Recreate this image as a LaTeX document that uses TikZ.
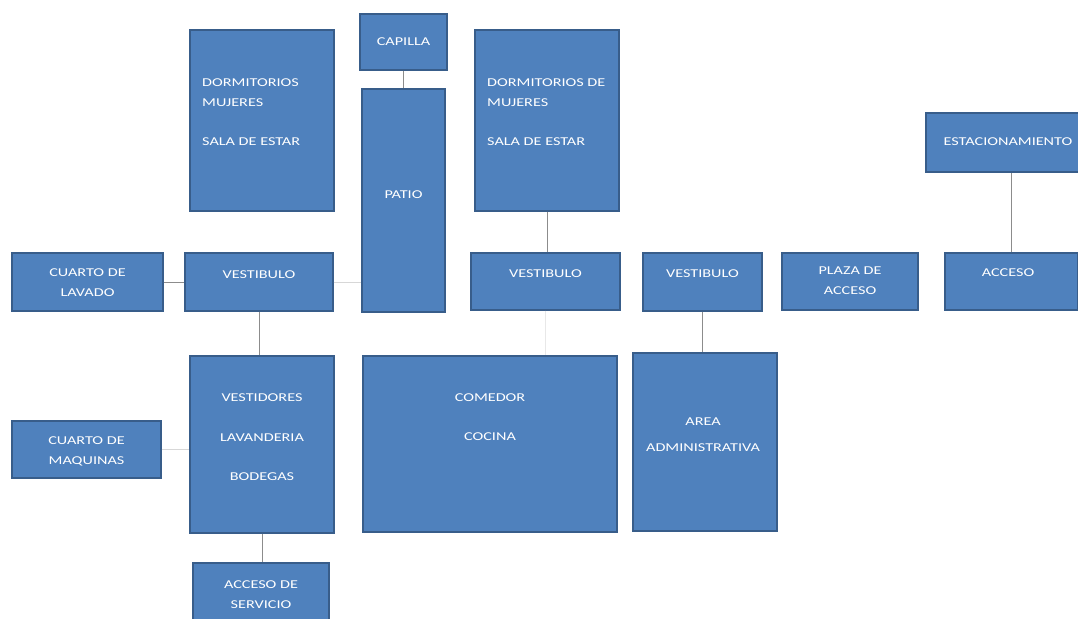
\documentclass[tikz,border=0pt]{standalone}
\usepackage{fontspec}
\newfontfamily\boxfont[FakeStretch=1.35]{Carlito}
\usetikzlibrary{positioning}
\definecolor{roomblue}{HTML}{4F81BD}
\definecolor{roomedge}{HTML}{385D8A}
\definecolor{linkgray}{HTML}{8C8C8C}

\begin{document}
\begin{tikzpicture}[x=1pt,y=-1pt,
  room/.style={draw=roomedge,line width=1.4pt,fill=roomblue,inner sep=0pt},
  roomtxt/.style={text=white,font=\boxfont\fontsize{12}{20}\selectfont,align=center,inner sep=0pt},
  link/.style={draw=linkgray,line width=0.8pt},
  faintlink/.style={draw=linkgray!35,line width=0.8pt}]
\useasboundingbox (0,0) rectangle (1078,618);
\clip (0,0) rectangle (1078,618);
% top row
\node[room,minimum width=87pt,minimum height=56pt] (capilla) at (403.5,42) {};
\node[room,minimum width=83pt,minimum height=223pt] (patio) at (403.5,200.5) {};
\node[room,minimum width=144pt,minimum height=181pt] (dormL) at (262,120.5) {};
\node[room,minimum width=144pt,minimum height=181pt] (dormR) at (547,120.5) {};
\node[room,minimum width=164pt,minimum height=59pt] (estac) at (1008,142.5) {};
% vestibule row
\node[room,minimum width=151pt,minimum height=58pt] (lavado) at (87.5,282) {};
\node[room,minimum width=148pt,minimum height=58pt] (vestL) at (259,282) {};
\node[room,minimum width=149pt,minimum height=57pt] (vestM) at (545.5,281.5) {};
\node[room,minimum width=119pt,minimum height=58pt] (vestR) at (702.5,282) {};
\node[room,minimum width=136pt,minimum height=57pt] (plaza) at (850,281.5) {};
\node[room,minimum width=133pt,minimum height=57pt] (acceso) at (1011.5,281.5) {};
% lower row
\node[room,minimum width=144pt,minimum height=177pt] (vestidores) at (262,444.5) {};
\node[room,minimum width=149pt,minimum height=57pt] (maquinas) at (86.5,449.5) {};
\node[room,minimum width=136pt,minimum height=64pt] (servicio) at (261,595) {};
\node[room,minimum width=254pt,minimum height=176pt] (comedor) at (490,444) {};
\node[room,minimum width=144pt,minimum height=178pt] (admin) at (705,442) {};
% texts
\node[roomtxt] (tcapilla) at (403.5,42) {CAPILLA};
\node[roomtxt] (tpatio) at (403.5,195) {PATIO};
\node[roomtxt,align=left,anchor=west] (tdormL) at (202,112) {DORMITORIOS\\MUJERES\\[19pt]SALA DE ESTAR};
\node[roomtxt,align=left,anchor=west] (tdormR) at (487,112) {DORMITORIOS DE\\MUJERES\\[19pt]SALA DE ESTAR};
\node[roomtxt] (testac) at (1008,142) {ESTACIONAMIENTO};
\node[roomtxt] (tlavado) at (87.5,282.5) {CUARTO DE\\LAVADO};
\node[roomtxt] (tvestL) at (259,275) {VESTIBULO};
\node[roomtxt] (tvestM) at (545.5,274) {VESTIBULO};
\node[roomtxt] (tvestR) at (702.5,274) {VESTIBULO};
\node[roomtxt] (tplaza) at (850,281) {PLAZA DE\\ACCESO};
\node[roomtxt] (tacceso) at (1008,273) {ACCESO};
\node[roomtxt] (tvestidores) at (262,437.5) {VESTIDORES\\[20pt]LAVANDERIA\\[19pt]BODEGAS};
\node[roomtxt] (tmaquinas) at (86.5,451) {CUARTO DE\\MAQUINAS};
\node[roomtxt] (tservicio) at (261,595) {ACCESO DE\\SERVICIO};
\node[roomtxt] (tcomedor) at (490,417.5) {COMEDOR\\[19pt]COCINA};
\node[roomtxt] (tadmin) at (703,435) {AREA\\[6pt]ADMINISTRATIVA};
% connectors
\draw[link] (capilla.south)--(patio.north);
\draw[link] (dormR.south)--(dormR.south |- vestM.north);
\draw[link] (acceso.north)--(acceso.north |- estac.south);
\draw[link] (lavado.east)--(vestL.west);
\draw[faintlink] (vestL.east)--(vestL.east -| patio.west);
\draw[link] (vestL.south)--(vestL.south |- vestidores.north);
\draw[link] (vestR.south)--(vestR.south |- admin.north);
\draw[faintlink] (maquinas.east)--(maquinas.east -| vestidores.west);
\draw[link] (vestidores.south)--(vestidores.south |- servicio.north);
\draw[draw=linkgray!20,line width=0.8pt] (vestM.south)--(vestM.south |- comedor.north);
\end{tikzpicture}
\end{document}
